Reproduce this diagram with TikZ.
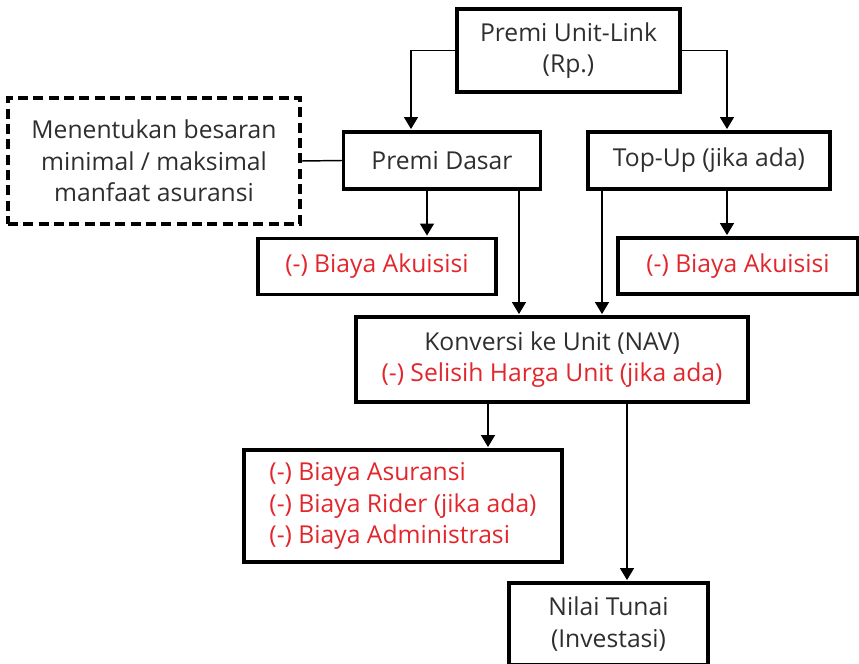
\documentclass[tikz,border=0pt]{standalone}
\usepackage{fontspec}
\setmainfont{Open Sans}
\usetikzlibrary{arrows.meta, calc, positioning}
\definecolor{txtgray}{HTML}{2E2E2E}
\definecolor{minred}{HTML}{E2262C}

\begin{document}
\begin{tikzpicture}[x=0.75pt, y=-0.75pt]
    \def \px {0.75pt}
    \tikzstyle{every node}=[font=\fontsize{18.5}{23.5}\selectfont, text=txtgray, align=center, inner sep=0pt];
    \tikzstyle{box}=[draw, line width=2.4pt];
    \tikzstyle{dbox}=[draw, line width=2.4pt, dash pattern=on 7.5pt off 4pt];
    \tikzstyle{arr}=[line width=1.1pt, shorten >=1pt, -{Triangle[length=9pt, width=10.5pt]}];
    \useasboundingbox (0,0) rectangle (859,663);
    % boxes
    \node[box, minimum width=223*\px, minimum height=83*\px] (premi) at (568.5,50.5) {Premi Unit-Link\\(Rp.)};
    \node[box, minimum width=197*\px, minimum height=57*\px] (dasar) at (442,160.5) {Premi Dasar};
    \node[box, minimum width=242*\px, minimum height=57*\px] (topup) at (709,160.5) {Top-Up (jika ada)};
    \node[dbox, minimum width=292*\px, minimum height=126*\px] (ket) at (154,161) {Menentukan besaran\\minimal / maksimal\\manfaat asuransi};
    \node[box, minimum width=238*\px, minimum height=56*\px, text=minred] (akuA) at (377,266.5) {(-) Biaya Akuisisi};
    \node[box, minimum width=240*\px, minimum height=56*\px, text=minred] (akuB) at (738,266) {(-) Biaya Akuisisi};
    \node[box, minimum width=392*\px, minimum height=85*\px] (konversi) at (552,359.5) {Konversi ke Unit (NAV)\\\textcolor{minred}{(-) Selisih Harga Unit (jika ada)}};
    \node[box, minimum width=318*\px, minimum height=112*\px, text=minred, align=left] (biaya) at (403,506) {(-) Biaya Asuransi\\(-) Biaya Rider (jika ada)\\(-) Biaya Administrasi};
    \node[box, minimum width=199*\px, minimum height=82*\px] (nilai) at (608.5,624) {Nilai Tunai\\(Investasi)};
    % connectors
    \draw[arr] (premi.west) -| ($(dasar.north)+(-31,0)$);
    \draw[arr] (premi.east) -| ($(topup.north)+(18,0)$);
    \draw[line width=1.1pt] (ket.east) -- (dasar.west);
    \draw[arr] ($(dasar.south)+(-15,0)$) -- ($(akuA.north)+(50,0)$);
    \draw[arr] ($(dasar.south)+(77,0)$) -- ($(konversi.north)+(-33,0)$);
    \draw[arr] ($(topup.south)+(-107,0)$) -- ($(konversi.north)+(50,0)$);
    \draw[arr] ($(topup.south)+(18,0)$) -- ($(akuB.north)+(-11,0)$);
    \draw[arr] ($(konversi.south)+(-64,0)$) -- ($(biaya.north)+(85,0)$);
    \draw[arr] ($(konversi.south)+(75,0)$) -- ($(nilai.north)+(18.5,0)$);
\end{tikzpicture}
\end{document}
